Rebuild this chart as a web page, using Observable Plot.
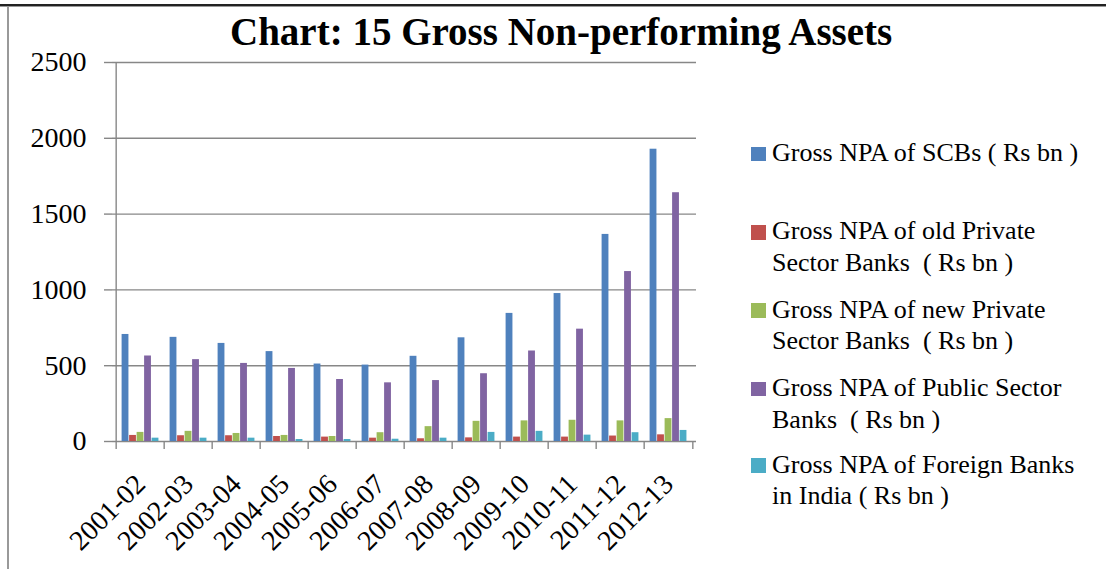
<!DOCTYPE html>
<html>
<head>
<meta charset="utf-8">
<script src="https://cdn.jsdelivr.net/npm/d3@7"></script>
<script src="https://cdn.jsdelivr.net/npm/@observablehq/plot@0.6"></script>
<style>
  html, body { margin: 0; padding: 0; background: #fff; }
  #wrap { position: relative; width: 1106px; height: 569px; overflow: hidden; font-family: "Liberation Serif", serif; }
  #topline { position: absolute; left: 0; top: 4px; width: 1106px; height: 2px; background: #222; }
  #topline2 { position: absolute; left: 0; top: 6px; width: 1106px; height: 1px; background: #999; }
  #leftline { position: absolute; left: 7px; top: 7px; width: 2px; height: 562px; background: #999; }
  #title { position: absolute; left: 230px; top: 9px; font-weight: bold; font-size: 39px; line-height: 46px; white-space: nowrap; color: #000; }
  .item { position: absolute; left: 751px; font-size: 26px; line-height: 31.7px; white-space: pre; color: #000; }
  .sw { position: absolute; left: 0; top: 9.6px; width: 14.7px; height: 14.7px; }
  .txt { position: absolute; left: 21px; top: 0; }
  #chart { position: absolute; left: 0; top: 0; }
</style>
</head>
<body>
<div id="wrap">
  <div id="topline"></div><div id="topline2"></div><div id="leftline"></div>
  <div id="chart"></div>
  <div id="title"></div>
  <div id="legend"></div>
</div>
<script>
const years = ["2001-02","2002-03","2003-04","2004-05","2005-06","2006-07","2007-08","2008-09","2009-10","2010-11","2011-12","2012-13"];
const seriesNames = [
  "Gross NPA of SCBs ( Rs bn )",
  "Gross NPA of old Private\nSector Banks  ( Rs bn )",
  "Gross NPA of new Private\nSector Banks  ( Rs bn )",
  "Gross NPA of Public Sector\nBanks  ( Rs bn )",
  "Gross NPA of Foreign Banks\nin India ( Rs bn )"
];
const colors = ["#4F81BD", "#C0504D", "#9BBB59", "#8064A2", "#4BACC6"];
const scb     = [706, 687, 647, 593, 511, 504, 562, 684, 845, 976, 1366, 1928];
const oldPvt  = [40, 38, 38, 33, 29, 22, 18, 24, 29, 29, 36, 44];
const newPvt  = [60, 67, 53, 40, 33, 58, 98, 133, 136, 140, 136, 151];
const psb     = [564, 540, 515, 482, 409, 387, 402, 447, 597, 741, 1121, 1641];
const foreign = [22, 22, 22, 13, 13, 15, 22, 60, 67, 42, 58, 73];
const yTicks = [0, 500, 1000, 1500, 2000, 2500];

const seriesValues = [scb, oldPvt, newPvt, psb, foreign];

const W = 1106, H = 569;
const mL = 112, mR = 410, mT = 62, mB = 128;
const step = (W - mL - mR) / years.length;
const pad = 5.6, barW = 7.5;
const grey = "#878787";

const barMarks = seriesValues.map((vals, i) =>
  Plot.barY(years.map((y, j) => ({year: y, value: vals[j]})), {
    x: "year", y: "value", fill: colors[i],
    insetLeft: pad + barW * i,
    insetRight: step - pad - barW * (i + 1)
  })
);

const plot = Plot.plot({
  width: W, height: H,
  marginLeft: mL, marginRight: mR, marginTop: mT, marginBottom: mB,
  style: {fontFamily: "'Liberation Serif', serif", background: "transparent", color: "#000"},
  x: {type: "band", domain: years, paddingInner: 0, paddingOuter: 0},
  y: {domain: [0, 2500]},
  marks: [
    Plot.gridY(yTicks, {stroke: grey, strokeOpacity: 1, strokeWidth: 1.4}),
    ...barMarks,
    Plot.ruleX([years[0]], {x: d => d, dx: -step / 2, stroke: grey, strokeWidth: 1.4}),
    Plot.ruleX(years, {x: d => d, dx: -step / 2, y1: 0, y2: 0, insetBottom: -8, stroke: grey, strokeWidth: 1.4}),
    Plot.ruleX([years[years.length - 1]], {x: d => d, dx: step / 2, y1: 0, y2: 0, insetBottom: -8, stroke: grey, strokeWidth: 1.4}),
    Plot.axisY(yTicks, {tickSize: 8, tickPadding: 18, fontSize: 28, tickFormat: d3.format("d"), stroke: grey, strokeWidth: 1.4, fill: "#000", label: null}),
    Plot.axisX({tickSize: 0, tickRotate: -45, tickPadding: 38, fontSize: 28, fill: "#000", label: null})
  ]
});
document.getElementById("chart").appendChild(plot);

document.getElementById("title").textContent = "Chart: 15 Gross Non-performing Assets";

const itemTops = [137.1, 215.4, 293.7, 372.1, 448.7];
const legend = document.getElementById("legend");
seriesNames.forEach((name, i) => {
  const it = document.createElement("div");
  it.className = "item";
  it.style.top = itemTops[i] + "px";
  const sw = document.createElement("div");
  sw.className = "sw"; sw.style.background = colors[i];
  const tx = document.createElement("div");
  tx.className = "txt"; tx.textContent = name;
  it.appendChild(sw); it.appendChild(tx);
  legend.appendChild(it);
});
</script>
</body>
</html>
